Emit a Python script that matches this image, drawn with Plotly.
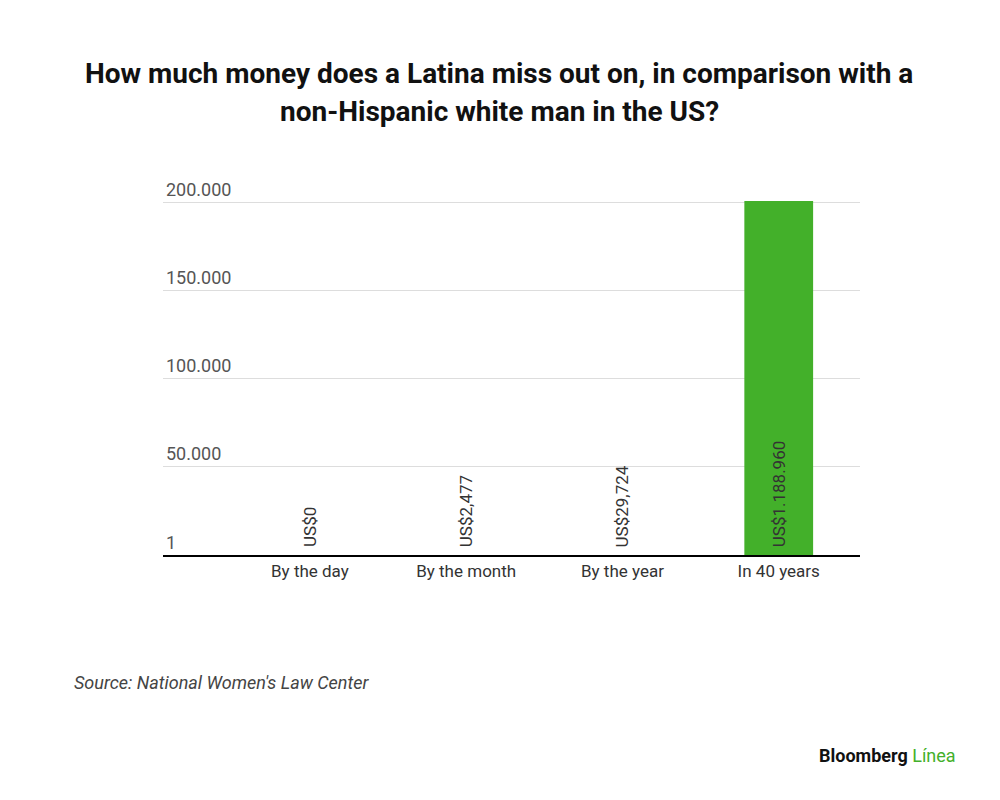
import plotly.graph_objects as go

# datos
categorias = ["By the day", "By the month", "By the year", "In 40 years"]
valores = [81, 2477, 29724, 1188960]
etiquetas = ["US$0", "US$2,477", "US$29,724", "US$1.188.960"]
colores = ["rgba(0,0,0,0)", "rgba(0,0,0,0)", "rgba(0,0,0,0)", "#43b02a"]

tick_vals = [1, 50000, 100000, 150000, 200000]
tick_text = ["1", "50.000", "100.000", "150.000", "200.000"]

titulo = ["How much money does a Latina miss out on, in comparison with a",
          "non-Hispanic white man in the US?"]
fuente = "Source: National Women's Law Center"

# margenes del area de dibujo (px)
L, R, T, B = 155, 148, 193, 253
W, H = 1000, 800
ancho = W - L - R
alto = H - T - B


def px(x):
    return (x - L) / ancho


def py(y):
    return (H - B - y) / alto


fig = go.Figure()
fig.add_trace(go.Bar(x=categorias, y=valores, marker_color=colores,
                     marker_line_width=0, width=0.44, hoverinfo="x+y"))

# etiquetas verticales en la base de cada barra
for cat, txt in zip(categorias, etiquetas):
    fig.add_annotation(x=cat, y=1, text=txt, textangle=-90, showarrow=False,
                       xanchor="center", yanchor="bottom", yshift=6,
                       font=dict(family="Roboto", size=17, color="#333333"))

# titulo en dos lineas
for i, linea in enumerate(titulo):
    fig.add_annotation(x=px(491), y=py(65 + 39 * i), xref="paper", yref="paper",
                       text="<b>" + linea + "</b>", showarrow=False,
                       xanchor="center", yanchor="middle",
                       font=dict(family="Roboto", size=28, color="#111111"))

fig.add_annotation(x=px(64), y=py(674), xref="paper", yref="paper",
                   text="<i>" + fuente + "</i>", showarrow=False,
                   xanchor="left", yanchor="middle",
                   font=dict(family="Roboto", size=18, color="#444444"))

fig.add_annotation(x=px(950), y=py(747), xref="paper", yref="paper",
                   text="<b>Bloomberg</b> <span style='color:#43b02a'>Línea</span>",
                   showarrow=False, xanchor="right", yanchor="middle",
                   font=dict(family="Roboto", size=18, color="#111111"))

fig.update_layout(
    width=W, height=H,
    paper_bgcolor="white", plot_bgcolor="white",
    margin=dict(l=L, r=R, t=T, b=B, autoexpand=False),
    showlegend=False,
)
fig.update_xaxes(range=[-0.94, 3.52], showline=True, linecolor="black", linewidth=2,
                 ticks="", tickfont=dict(family="Roboto", size=17, color="#333333"),
                 showgrid=False)
# un poco de holgura arriba para que se dibuje la linea de 200.000
fig.update_yaxes(range=[1, 200600], tickvals=tick_vals, ticktext=tick_text,
                 ticklabelposition="inside top", ticklabeloverflow="allow",
                 showgrid=True, gridcolor="#dddddd", gridwidth=1, zeroline=False,
                 tickfont=dict(family="Roboto", size=18, color="#555555"))

fig.write_html("out.html")
